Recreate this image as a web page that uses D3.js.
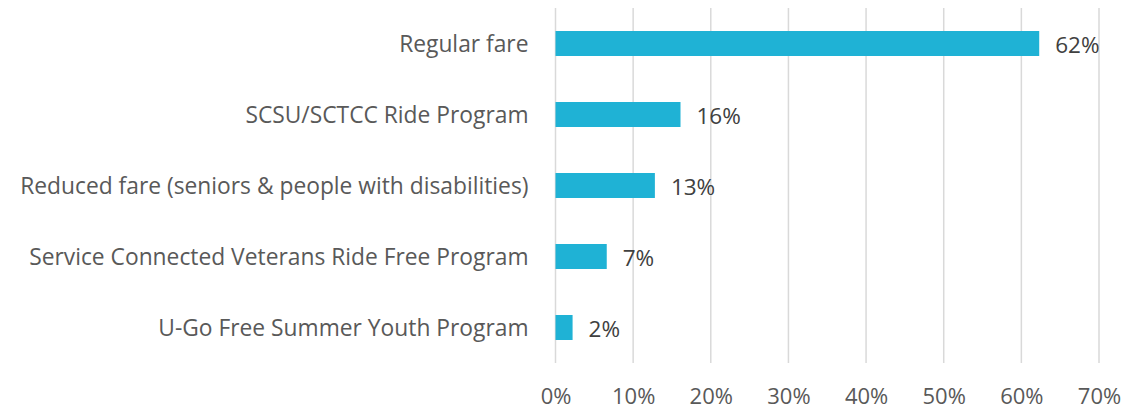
<!DOCTYPE html>
<html>
<head>
<meta charset="utf-8">
<script src="https://cdn.jsdelivr.net/npm/d3@7"></script>
<style>
  html, body { margin: 0; padding: 0; background: #fff; }
  svg { display: block; }
  text { font-family: "Open Sans", "Noto Sans", sans-serif; fill: #595959; }
</style>
</head>
<body>
<svg id="chart" width="1144" height="411"></svg>
<script>
// Share of riders by fare type
const categories = [
  "Regular fare",
  "SCSU/SCTCC Ride Program",
  "Reduced fare (seniors & people with disabilities)",
  "Service Connected Veterans Ride Free Program",
  "U-Go Free Summer Youth Program"
];
const shares = [62.3, 16.1, 12.8, 6.6, 2.2];
const tickValues = [0, 10, 20, 30, 40, 50, 60, 70];

const svg = d3.select("#chart");
const margin = { top: 8, right: 45, bottom: 48, left: 555.5 };
const width = 1144, height = 411;

const x = d3.scaleLinear()
  .domain([0, 70])
  .range([margin.left, width - margin.right]);

const y = d3.scaleBand()
  .domain(categories)
  .range([margin.top, height - margin.bottom])
  .paddingInner(0.648)
  .paddingOuter(0.324);

// vertical gridlines
svg.append("g")
  .selectAll("line")
  .data(tickValues)
  .join("line")
  .attr("x1", d => x(d)).attr("x2", d => x(d))
  .attr("y1", margin.top).attr("y2", height - margin.bottom)
  .attr("stroke", "#d9d9d9")
  .attr("stroke-width", 1.5);

// x axis tick labels
const xAxis = d3.axisBottom(x)
  .tickValues(tickValues)
  .tickFormat(d => d + "%")
  .tickSize(0)
  .tickPadding(0);
const gx = svg.append("g")
  .attr("transform", `translate(0,${height - margin.bottom})`)
  .call(xAxis);
gx.select(".domain").remove();
gx.selectAll("text")
  .attr("y", 33)
  .attr("dy", "0.35em")
  .style("font-size", "22px")
  .style("fill", "#595959");

// category labels
const yAxis = d3.axisLeft(y).tickSize(0).tickPadding(27);
const gy = svg.append("g")
  .attr("transform", `translate(${margin.left},0)`)
  .call(yAxis);
gy.select(".domain").remove();
gy.selectAll("text")
  .attr("dy", "0.38em")
  .style("font-size", "22.8px")
  .style("fill", "#595959");

// bars
svg.append("g")
  .selectAll("rect")
  .data(categories)
  .join("rect")
  .attr("x", x(0))
  .attr("y", d => y(d))
  .attr("width", (d, i) => x(shares[i]) - x(0))
  .attr("height", y.bandwidth())
  .attr("fill", "#1fb2d5");

// value labels
const fmt = v => d3.format(".0f")(v) + "%";
svg.append("g")
  .selectAll("text")
  .data(categories)
  .join("text")
  .attr("x", (d, i) => x(shares[i]) + 16)
  .attr("y", d => y(d) + y.bandwidth() / 2)
  .attr("dy", "0.44em")
  .style("font-size", "22.5px")
  .style("fill", "#404040")
  .text((d, i) => fmt(shares[i]));
</script>
</body>
</html>
